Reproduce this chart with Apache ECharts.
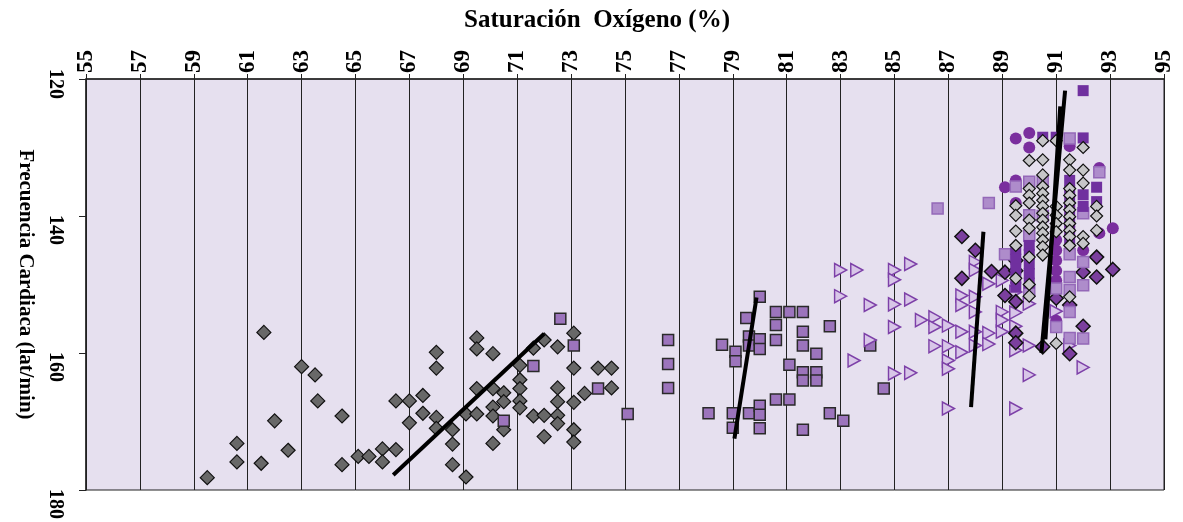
<!DOCTYPE html>
<html>
<head>
<meta charset="utf-8">
<script src="https://cdn.jsdelivr.net/npm/echarts@6/dist/echarts.min.js"></script>
<style>
  html, body { margin: 0; padding: 0; background: #fff; }
  #chart { width: 1183px; height: 522px; }
</style>
</head>
<body>
<div id="chart"></div>
<script>
// ejes
const xTicks = [55, 57, 59, 61, 63, 65, 67, 69, 71, 73, 75, 77, 79, 81, 83, 85, 87, 89, 91, 93, 95];
const yTicks = [120, 140, 160, 180];

// [saturación, frecuencia]
const grayDiamonds = [
  [59.5,178.2],[60.6,173.2],[60.6,175.9],[61.5,176.1],[61.6,157.0],[62.0,169.9],[62.5,174.2],[63.0,162.0],
  [63.5,163.2],[63.6,167.0],[64.5,169.2],[64.5,176.3],[65.1,175.1],[65.5,175.1],[66.0,174.0],[66.0,175.9],
  [66.5,174.1],[66.5,167.0],[67.0,167.0],[67.0,170.2],[67.5,166.2],[67.5,168.8],[68.0,159.9],[68.0,162.2],
  [68.0,169.4],[68.0,171.0],[68.6,171.2],[68.6,173.3],[68.6,176.3],[69.1,168.9],[69.1,178.1],[69.5,157.8],
  [69.5,159.4],[69.5,165.2],[69.5,168.9],[70.1,160.1],[70.1,165.2],[70.1,167.9],[70.1,169.2],[70.1,173.2],
  [70.5,165.8],[70.5,167.1],[70.5,171.2],[71.1,161.8],[71.1,163.9],[71.1,165.2],[71.1,167.0],[71.1,168.0],
  [71.6,159.3],[71.6,169.2],[72.0,158.1],[72.0,169.1],[72.0,172.2],[72.5,159.1],[72.5,165.1],[72.5,167.1],
  [72.5,169.1],[72.5,170.3],[73.1,157.1],[73.1,162.2],[73.1,167.2],[73.1,171.2],[73.1,173.0],[73.5,165.9],
  [74.0,162.2],[74.5,162.2],[74.5,165.1]
];
const purpleSquares = [
  [70.5,169.9],[71.6,161.9],[72.6,155.0],[73.1,158.9],[74.0,165.2],[75.1,168.9],[76.6,158.1],[76.6,161.6],
  [76.6,165.1],[78.1,168.8],[78.6,158.8],[79.0,168.8],[79.0,170.9],[79.1,159.8],[79.1,161.2],[79.5,154.9],
  [79.6,157.6],[79.6,158.9],[79.6,168.8],[80.0,151.8],[80.0,158.0],[80.0,159.4],[80.0,167.7],[80.0,169.0],
  [80.0,171.0],[80.6,154.0],[80.6,155.9],[80.6,158.1],[80.6,166.8],[81.1,154.0],[81.1,161.7],[81.1,166.8],
  [81.6,154.0],[81.6,156.9],[81.6,158.9],[81.6,162.8],[81.6,164.0],[81.6,171.2],[82.1,160.1],[82.1,162.8],
  [82.1,164.0],[82.6,156.1],[82.6,168.8],[83.1,169.9],[84.1,158.9],[84.6,165.2]
];
const triangles = [
  [83.0,147.9],[83.0,151.7],[83.6,147.9],[83.5,161.1],[84.1,153.0],[84.1,158.1],[85.0,147.9],[85.0,149.3],
  [85.0,152.9],[85.0,156.2],[85.0,163.0],[85.6,147.0],[85.6,152.2],[85.6,162.9],[86.0,155.2],[86.5,154.8],
  [86.5,156.2],[86.5,159.0],[87.0,156.0],[87.0,159.0],[87.0,161.1],[87.0,162.3],[87.0,168.1],[87.5,151.6],
  [87.5,153.0],[87.5,156.9],[87.5,159.9],[88.0,146.7],[88.0,147.9],[88.0,151.8],[88.0,154.0],[88.0,156.9],
  [88.0,158.9],[88.5,149.9],[88.5,157.1],[88.5,158.7],[89.0,149.4],[89.0,154.0],[89.0,155.2],[89.0,156.9],
  [89.5,151.1],[89.5,154.1],[89.5,156.1],[89.5,159.6],[89.5,168.1],[90.0,152.8],[90.0,158.9],[90.0,163.2],
  [91.0,153.9],[91.5,158.9],[92.0,162.1]
];
const darkDiamonds = [
  [87.5,143.0],[88.0,145.0],[88.6,148.1],[87.5,149.1],[89.1,148.2],[89.5,146.5],[89.5,148.0],[89.1,151.6],
  [89.5,152.5],[89.5,157.1],[89.5,158.5],[90.5,159.1],[91.0,152.0],[91.5,153.0],[91.5,160.1],[92.0,148.2],
  [92.0,156.1],[92.5,146.0],[92.5,148.9],[93.1,147.8]
];
const circles = [
  [89.1,135.8],[89.5,128.7],[89.5,134.8],[89.5,138.1],[90.0,127.9],[90.0,130.0],[91.5,129.8],[92.6,133.0],
  [92.6,142.5],[93.1,141.8],[92.0,145.0],[91.0,143.5],[91.0,145.0],[91.0,146.5],[91.0,148.0],[91.0,149.4],
  [91.0,155.3]
];
const lightSquares = [
  [86.6,138.9],[88.5,138.1],[89.1,145.6],[89.5,135.7],[90.0,135.0],[90.5,135.0],[90.0,139.9],[90.5,140.0],
  [90.0,142.9],[90.0,150.8],[91.0,150.6],[91.0,156.2],[91.5,128.7],[91.5,145.6],[91.5,148.9],[91.5,150.8],
  [91.5,154.0],[91.5,157.8],[92.0,139.6],[92.0,146.7],[92.0,150.1],[92.0,157.9],[92.6,133.6]
];
const darkSquares = [
  [92.0,121.7],[90.5,128.5],[91.0,128.5],[92.0,128.6],[92.5,135.8],[92.0,136.9],[92.0,138.6],[92.5,137.9],
  [91.5,134.8],[91.5,136.3],[91.5,137.8],[91.5,139.3],[91.5,140.8],[91.5,142.3],[91.5,143.8],
  [90.0,144.3],[90.0,145.6],[90.0,147.0],[90.0,148.4],[90.0,149.8],
  [89.5,144.9],[89.5,146.3],[89.5,147.7],[89.5,149.1],[89.5,150.4]
];
const lightDiamonds = [
  [89.5,138.5],[89.5,139.9],[89.5,142.2],[89.5,144.3],[89.5,149.1],
  [90.0,131.9],[90.0,136.0],[90.0,137.0],[90.0,138.1],[90.0,140.6],[90.0,141.8],[90.0,146.0],[90.0,150.0],[90.0,151.7],
  [90.5,129.0],[90.5,131.8],[90.5,134.0],[90.5,135.7],[90.5,136.7],[90.5,137.7],[90.5,138.6],[90.5,139.6],
  [90.5,140.6],[90.5,141.6],[90.5,142.5],[90.5,143.5],[90.5,144.5],[90.5,145.7],
  [91.0,129.0],[91.0,138.6],[91.0,139.9],[91.0,141.1],[91.0,142.3],[91.0,158.6],
  [91.5,131.8],[91.5,133.3],[91.5,136.0],[91.5,137.0],[91.5,138.1],[91.5,139.1],[91.5,140.1],[91.5,141.1],
  [91.5,142.1],[91.5,143.0],[91.5,144.3],[91.5,151.8],
  [92.0,130.0],[92.0,133.3],[92.0,135.2],[92.0,143.0],[92.0,144.0],
  [92.5,138.6],[92.5,140.0],[92.5,142.1]
];
// líneas de tendencia
const trend1 = [[66.4,177.8],[72.0,157.2]];
const trend2 = [[79.06,172.5],[79.88,151.9]];
const trend3 = [[87.84,167.9],[88.3,142.3]];
const trend4 = [[90.45,160.0],[91.33,121.7]];
const trend5 = [[90.6,158.0],[91.15,124.0]];

const font = 'Liberation Serif';
const labelFont = { fontFamily: font, fontWeight: 'bold', fontSize: 20, color: '#000' };
const chart = echarts.init(document.getElementById('chart'));

const scatter = (data, symbol, size, color, border, borderWidth, rotate) => ({
  type: 'scatter',
  data: data,
  symbol: symbol,
  symbolSize: size,
  symbolRotate: rotate || 0,
  itemStyle: { color: color, borderColor: border, borderWidth: borderWidth, opacity: 1 },
  emphasis: { disabled: true },
  silent: true
});
const trend = (data) => ({
  type: 'line',
  data: data,
  symbol: 'none',
  lineStyle: { color: '#000', width: 4 },
  z: 5,
  silent: true
});

chart.setOption({
  animation: false,
  backgroundColor: '#fff',
  title: {
    text: 'Saturación  Oxígeno (%)',
    left: 459,
    top: 3,
    textStyle: { fontFamily: font, fontWeight: 'bold', fontSize: 25, color: '#000' }
  },
  grid: {
    left: 86, right: 19, top: 79, bottom: 32,
    show: true,
    backgroundColor: '#E6E0EF',
    borderColor: '#222',
    borderWidth: 1
  },
  xAxis: {
    type: 'value',
    position: 'top',
    min: xTicks[0],
    max: xTicks[xTicks.length - 1],
    interval: 2,
    axisLine: { show: true, lineStyle: { color: '#222', width: 1.5 } },
    axisTick: { show: true, inside: false, length: 5, lineStyle: { color: '#222' } },
    splitLine: { show: true, lineStyle: { color: '#222', width: 1 } },
    axisLabel: {
      rotate: -90,
      margin: 6,
      align: 'left',
      verticalAlign: 'middle',
      fontFamily: font, fontWeight: 'bold', fontSize: 23, color: '#000',
      showMinLabel: true, showMaxLabel: true
    }
  },
  yAxis: {
    type: 'value',
    inverse: true,
    min: yTicks[0],
    max: yTicks[yTicks.length - 1],
    interval: 20,
    name: 'Frecuencia Cardiaca (lat/min)',
    nameLocation: 'middle',
    nameRotate: -90,
    nameGap: 50,
    nameTextStyle: { fontFamily: font, fontWeight: 'bold', fontSize: 21, color: '#000' },
    axisLine: { show: true, lineStyle: { color: '#222', width: 1.5 } },
    axisTick: { show: true, inside: false, length: 7, lineStyle: { color: '#222' } },
    splitLine: { show: false },
    axisLabel: {
      rotate: -90,
      margin: 31,
      align: 'center',
      verticalAlign: 'middle',
      formatter: (v) => (v === yTicks[0] ? '{s|' + v + '}' : '{n|' + v + '}'),
      rich: {
        n: Object.assign({ padding: [0, 0, 0, 28] }, labelFont),
        s: Object.assign({ padding: [0, 0, 0, 10] }, labelFont)
      },
      ...labelFont,
      showMinLabel: true, showMaxLabel: true
    }
  },
  series: [
    scatter(grayDiamonds, 'diamond', 14, '#686868', '#111', 1.2),
    scatter(purpleSquares, 'rect', 11, '#9C74BC', '#2a2a2a', 1.5),
    scatter(triangles, 'triangle', [13, 12], '#D8C6E8', '#7D40A8', 1.5, -90),
    scatter(darkDiamonds, 'diamond', 14, '#7B3F9E', '#111', 1.5),
    scatter(circles, 'circle', 12, '#7A2E9E', '#7A2E9E', 0),
    scatter(lightSquares, 'rect', 11, '#AE8CCB', '#9468B8', 1.5),
    scatter(darkSquares, 'rect', 11, '#70309F', '#70309F', 0),
    scatter(lightDiamonds, 'diamond', 12, '#C6C6C8', '#111', 1.2),
    trend(trend1),
    trend(trend2),
    trend(trend3),
    trend(trend4),
    trend(trend5)
  ]
});
</script>
</body>
</html>
